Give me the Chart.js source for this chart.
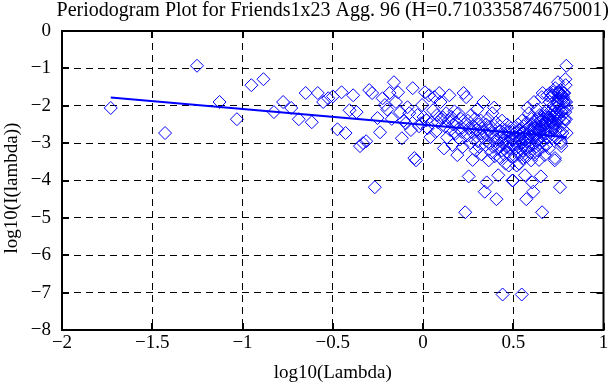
<!DOCTYPE html>
<html>
<head>
<meta charset="utf-8">
<script src="https://cdn.jsdelivr.net/npm/chart.js@4.4.0/dist/chart.umd.min.js"></script>
<style>
  html, body { margin: 0; padding: 0; background: #fff; }
  #chart { display: block; }
</style>
</head>
<body>
<canvas id="chart" width="611" height="385"></canvas>
<script>
// log10 of the Fourier frequencies
const logLambda = [
    -1.730, -1.429, -1.252, -1.127, -1.031, -0.951, -0.884, -0.826, -0.775, -0.730,
    -0.688, -0.650, -0.616, -0.583, -0.553, -0.525, -0.499, -0.474, -0.451, -0.429,
    -0.407, -0.387, -0.368, -0.349, -0.332, -0.315, -0.298, -0.282, -0.267, -0.252,
    -0.238, -0.224, -0.211, -0.198, -0.185, -0.173, -0.161, -0.150, -0.138, -0.127,
    -0.117, -0.106, -0.096, -0.086, -0.076, -0.067, -0.057, -0.048, -0.039, -0.030,
    -0.022, -0.013, -0.005, 0.003, 0.011, 0.019, 0.026, 0.034, 0.041, 0.049,
    0.056, 0.063, 0.070, 0.077, 0.083, 0.090, 0.097, 0.103, 0.109, 0.116,
    0.122, 0.128, 0.134, 0.140, 0.146, 0.151, 0.157, 0.163, 0.168, 0.174,
    0.179, 0.184, 0.190, 0.195, 0.200, 0.205, 0.210, 0.215, 0.220, 0.225,
    0.230, 0.234, 0.239, 0.244, 0.248, 0.253, 0.257, 0.262, 0.266, 0.271,
    0.275, 0.279, 0.283, 0.288, 0.292, 0.296, 0.300, 0.304, 0.308, 0.312,
    0.316, 0.320, 0.324, 0.327, 0.331, 0.335, 0.339, 0.342, 0.346, 0.350,
    0.353, 0.357, 0.360, 0.364, 0.367, 0.371, 0.374, 0.378, 0.381, 0.384,
    0.388, 0.391, 0.394, 0.398, 0.401, 0.404, 0.407, 0.410, 0.414, 0.417,
    0.420, 0.423, 0.426, 0.429, 0.432, 0.435, 0.438, 0.441, 0.444, 0.447,
    0.450, 0.452, 0.455, 0.458, 0.461, 0.464, 0.466, 0.469, 0.472, 0.475,
    0.477, 0.480, 0.483, 0.485, 0.488, 0.491, 0.493, 0.496, 0.498, 0.501,
    0.504, 0.506, 0.509, 0.511, 0.514, 0.516, 0.519, 0.521, 0.523, 0.526,
    0.528, 0.531, 0.533, 0.535, 0.538, 0.540, 0.542, 0.545, 0.547, 0.549,
    0.552, 0.554, 0.556, 0.558, 0.561, 0.563, 0.565, 0.567, 0.569, 0.572,
    0.574, 0.576, 0.578, 0.580, 0.582, 0.584, 0.587, 0.589, 0.591, 0.593,
    0.595, 0.597, 0.599, 0.601, 0.603, 0.605, 0.607, 0.609, 0.611, 0.613,
    0.615, 0.617, 0.619, 0.621, 0.623, 0.625, 0.627, 0.628, 0.630, 0.632,
    0.634, 0.636, 0.638, 0.640, 0.642, 0.643, 0.645, 0.647, 0.649, 0.651,
    0.653, 0.654, 0.656, 0.658, 0.660, 0.661, 0.663, 0.665, 0.667, 0.668,
    0.670, 0.672, 0.674, 0.675, 0.677, 0.679, 0.680, 0.682, 0.684, 0.686,
    0.687, 0.689, 0.691, 0.692, 0.694, 0.695, 0.697, 0.699, 0.700, 0.702,
    0.704, 0.705, 0.707, 0.708, 0.710, 0.711, 0.713, 0.715, 0.716, 0.718,
    0.719, 0.721, 0.722, 0.724, 0.725, 0.727, 0.728, 0.730, 0.731, 0.733,
    0.734, 0.736, 0.737, 0.739, 0.740, 0.742, 0.743, 0.745, 0.746, 0.748,
    0.749, 0.751, 0.752, 0.753, 0.755, 0.756, 0.758, 0.759, 0.760, 0.762,
    0.763, 0.765, 0.766, 0.767, 0.769, 0.770, 0.772, 0.773, 0.774, 0.776,
    0.777, 0.778, 0.780, 0.781, 0.782, 0.784, 0.785, 0.786, 0.788, 0.789,
    0.790, 0.792, 0.793, 0.794, 0.796, 0.797
];

// log10 of the periodogram at each frequency
const logPeriodogram = [
    -2.06, -2.73, -0.93, -1.90, -2.36, -1.45, -1.29, -2.17, -1.90, -2.06,
    -2.36, -1.66, -2.44, -1.66, -1.90, -1.80, -1.75, -2.63, -1.64, -2.73,
    -2.12, -1.72, -2.17, -3.08, -3.00, -2.95, -1.58, -1.66, -4.18, -2.33,
    -2.71, -1.80, -1.98, -2.10, -1.66, -2.35, -1.37, -1.90, -1.64, -2.17,
    -2.87, -2.40, -2.47, -2.04, -2.20, -2.65, -1.53, -3.40, -3.46, -2.25,
    -2.55, -2.47, -1.98, -2.30, -1.64, -2.39, -2.60, -1.72, -2.84, -2.45,
    -2.12, -1.77, -2.70, -2.25, -2.44, -1.66, -1.90, -2.35, -2.31, -3.14,
    -2.55, -2.20, -2.85, -2.40, -1.72, -2.65, -2.30, -3.05, -2.50, -2.15,
    -2.75, -2.45, -3.32, -2.20, -2.60, -2.90, -2.35, -2.70, -3.10, -1.66,
    -2.50, -4.85, -1.77, -2.80, -2.40, -3.89, -2.60, -3.00, -2.25, -2.70,
    -3.45, -2.55, -2.90, -2.35, -3.20, -2.65, -2.10, -2.95, -2.50, -3.10,
    -2.75, -2.40, -3.30, -2.60, -2.85, -1.90, -2.70, -4.30, -3.05, -2.50,
    -4.05, -2.80, -2.35, -3.46, -2.65, -3.00, -2.55, -3.25, -2.75, -2.20,
    -3.10, -2.85, -2.05, -3.35, -2.95, -2.45, -4.50, -2.90, -3.15, -3.86,
    -2.70, -3.05, -2.55, -3.40, -2.85, -3.20, -2.40, -7.05, -3.00, -2.75,
    -3.30, -2.90, -2.65, -3.55, -2.80, -3.10, -2.50, -3.25, -2.95, -3.60,
    -2.70, -3.15, -2.85, -3.35, -2.60, -3.05, -2.90, -4.00, -4.00, -2.90,
    -3.05, -2.60, -3.35, -2.85, -3.15, -2.70, -3.60, -2.95, -3.25, -2.50,
    -3.10, -2.80, -3.55, -2.65, -2.90, -3.30, -2.75, -3.00, -7.05, -2.40,
    -3.20, -2.85, -3.40, -2.55, -3.05, -2.70, -3.86, -3.15, -2.90, -4.50,
    -2.45, -2.95, -3.35, -2.05, -2.85, -3.10, -2.20, -2.75, -3.25, -2.55,
    -3.00, -2.65, -3.46, -2.35, -2.80, -4.05, -2.50, -3.05, -4.30, -2.70,
    -1.90, -2.85, -2.60, -3.30, -2.40, -2.75, -3.10, -2.50, -2.95, -2.10,
    -2.65, -3.20, -2.35, -2.90, -2.55, -3.45, -2.70, -2.25, -3.00, -2.60,
    -3.89, -2.40, -2.80, -1.77, -4.85, -2.50, -1.66, -3.10, -2.70, -2.35,
    -2.90, -2.60, -2.20, -3.32, -2.45, -2.75, -2.15, -2.50, -3.05, -2.30,
    -2.65, -1.72, -2.40, -2.85, -2.20, -2.55, -3.14, -2.31, -2.35, -1.90,
    -1.66, -2.44, -2.25, -2.70, -1.77, -2.12, -2.45, -2.84, -1.72, -2.60,
    -2.39, -1.64, -2.30, -1.98, -2.47, -2.55, -2.25, -3.46, -3.40, -1.53,
    -2.65, -2.20, -2.04, -2.47, -2.40, -2.87, -2.17, -1.64, -1.90, -1.37,
    -2.35, -1.66, -2.10, -1.98, -1.80, -2.71, -2.33, -4.18, -1.66, -1.58,
    -2.95, -3.00, -3.08, -2.17, -1.72, -2.12, -2.73, -1.64, -2.63, -1.75,
    -1.80, -1.90, -1.66, -2.44, -1.66, -2.36, -2.06, -1.90, -2.17, -1.29,
    -1.45, -2.36, -1.90, -0.93, -2.73, -2.06
];

// least squares fit (slope 1 - 2H)
const fitLambda = [-1.73, 0.797];
const fitValues = [-1.78, -2.84];

const xTickLabels = ['\u22122', '\u22121.5', '\u22121', '\u22120.5', '0', '0.5', '1'];
const yTickLabels = ['\u22128', '\u22127', '\u22126', '\u22125', '\u22124', '\u22123', '\u22122', '\u22121', '0'];

const titleText = 'Periodogram Plot for Friends1x23 Agg. 96 (H=0.710335874675001)';
const xTitle = 'log10(Lambda)';
const yTitle = 'log10(I(lambda))';

const serif = "'Liberation Serif', 'DejaVu Serif', serif";

// gnuplot style frame: box, inward ticks on all four sides, text labels
const gnuplotFrame = {
    id: 'gnuplotFrame',
    afterDraw(chart) {
        const ctx = chart.ctx;
        const area = chart.chartArea;
        const xScale = chart.scales.x;
        const yScale = chart.scales.y;
        ctx.save();
        ctx.strokeStyle = '#000';
        ctx.lineWidth = 2;
        ctx.beginPath();
        for (const tick of xScale.ticks) {
            const px = Math.round(xScale.getPixelForValue(tick.value));
            ctx.moveTo(px, area.bottom);
            ctx.lineTo(px, area.bottom - 7);
            ctx.moveTo(px, area.top);
            ctx.lineTo(px, area.top + 7);
        }
        for (const tick of yScale.ticks) {
            const py = Math.round(yScale.getPixelForValue(tick.value));
            ctx.moveTo(area.left, py);
            ctx.lineTo(area.left + 7, py);
            ctx.moveTo(area.right, py);
            ctx.lineTo(area.right - 7, py);
        }
        ctx.stroke();
        ctx.strokeRect(area.left, area.top, area.right - area.left, area.bottom - area.top);

        ctx.fillStyle = '#000';
        ctx.font = '20px ' + serif;
        ctx.textAlign = 'center';
        ctx.textBaseline = 'alphabetic';
        const cx = (area.left + area.right) / 2;
        ctx.fillText(titleText, cx, 16);

        ctx.font = '19px ' + serif;
        ctx.fillText(xTitle, cx, 378);

        ctx.translate(17, 188);
        ctx.rotate(-Math.PI / 2);
        ctx.fillText(yTitle, 0, 0);
        ctx.restore();
    }
};

const points = logLambda.map((x, i) => ({ x: x, y: logPeriodogram[i] }));
const fitPoints = fitLambda.map((x, i) => ({ x: x, y: fitValues[i] }));

const gridOpts = {
    color: '#000',
    lineWidth: 1,
    drawTicks: false
};

new Chart(document.getElementById('chart').getContext('2d'), {
    type: 'scatter',
    data: {
        datasets: [
            {
                label: 'fit',
                data: fitPoints,
                showLine: true,
                borderColor: '#0000ff',
                borderWidth: 2,
                pointRadius: 0,
                fill: false
            },
            {
                label: 'periodogram',
                data: points,
                pointStyle: 'rectRot',
                pointRadius: 6.5,
                pointHoverRadius: 6.5,
                borderColor: '#0000ff',
                backgroundColor: 'rgba(0,0,0,0)',
                borderWidth: 1
            }
        ]
    },
    options: {
        responsive: false,
        animation: false,
        devicePixelRatio: 1,
        layout: { padding: { top: 31, right: 3, left: 0, bottom: 0 } },
        plugins: {
            legend: { display: false },
            tooltip: { enabled: false },
            title: { display: false }
        },
        scales: {
            x: {
                type: 'linear',
                min: -2,
                max: 1,
                grid: gridOpts,
                border: { display: false, dash: [7, 5] },
                ticks: {
                    stepSize: 0.5,
                    padding: 2,
                    color: '#000',
                    font: { family: serif, size: 19 },
                    maxRotation: 0,
                    callback: (value, index) => xTickLabels[index]
                },
                afterFit(scale) {
                    scale.height = 55;
                    scale.paddingLeft = 0;
                    scale.paddingRight = 0;
                }
            },
            y: {
                type: 'linear',
                min: -8,
                max: 0,
                grid: gridOpts,
                border: { display: false, dash: [7, 5] },
                ticks: {
                    stepSize: 1,
                    padding: 11,
                    color: '#000',
                    font: { family: serif, size: 19 },
                    callback: (value, index) => yTickLabels[index]
                },
                afterFit(scale) {
                    scale.width = 62;
                    scale.paddingTop = 0;
                    scale.paddingBottom = 0;
                }
            }
        }
    },
    plugins: [gnuplotFrame]
});
</script>
</body>
</html>
